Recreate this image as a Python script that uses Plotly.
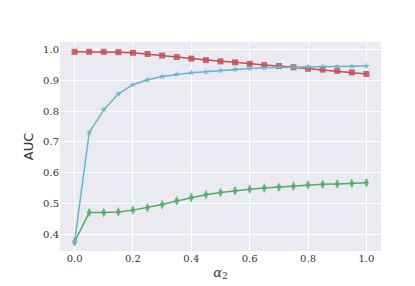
import plotly.graph_objects as go

alpha2 = [0.0, 0.05, 0.1, 0.15, 0.2, 0.25, 0.3, 0.35, 0.4, 0.45, 0.5,
          0.55, 0.6, 0.65, 0.7, 0.75, 0.8, 0.85, 0.9, 0.95, 1.0]
red_auc = [0.993, 0.993, 0.993, 0.992, 0.990, 0.986, 0.981, 0.976, 0.971, 0.966, 0.962,
           0.959, 0.954, 0.950, 0.947, 0.943, 0.938, 0.935, 0.931, 0.926, 0.921]
cyan_auc = [0.375, 0.730, 0.805, 0.856, 0.886, 0.902, 0.913, 0.920, 0.925, 0.928, 0.932,
            0.936, 0.939, 0.941, 0.943, 0.943, 0.944, 0.945, 0.945, 0.946, 0.947]
green_auc = [0.375, 0.470, 0.470, 0.472, 0.478, 0.486, 0.496, 0.508, 0.519, 0.528, 0.535,
             0.541, 0.546, 0.550, 0.553, 0.556, 0.560, 0.562, 0.563, 0.565, 0.567]
x_ticks = [0.0, 0.2, 0.4, 0.6, 0.8, 1.0]
y_ticks = [0.4, 0.5, 0.6, 0.7, 0.8, 0.9, 1.0]

serif = "DejaVu Serif, Liberation Serif, serif"

fig = go.Figure()
fig.add_trace(go.Scatter(x=alpha2, y=green_auc, mode="lines+markers",
                         line=dict(color="#55A868", width=1.5),
                         marker=dict(symbol="diamond-tall", size=7, color="#55A868", opacity=0.85)))
fig.add_trace(go.Scatter(x=alpha2, y=red_auc, mode="lines+markers",
                         line=dict(color="#C44E52", width=1.5),
                         marker=dict(symbol="square", size=6, color="#C44E52", opacity=0.85)))
fig.add_trace(go.Scatter(x=alpha2, y=cyan_auc, mode="lines+markers",
                         line=dict(color="#64B5CD", width=1.5),
                         marker=dict(symbol="star", size=5, color="#64B5CD", opacity=0.85)))

fig.update_layout(
    width=415, height=286,
    margin=dict(l=52, r=42, t=34, b=43),
    paper_bgcolor="white", plot_bgcolor="#EAEAF2",
    showlegend=False,
    font=dict(family=serif, size=10, color="#333333"),
)
fig.update_xaxes(range=[-0.05, 1.05], tickvals=x_ticks, tickformat=".1f",
                 tickfont=dict(family=serif, size=10, color="#333333"),
                 showgrid=True, gridcolor="white", gridwidth=1, zeroline=False,
                 ticks="", showline=False,
                 title=dict(text="<i>α</i><sub>2</sub>", font=dict(size=13, family=serif), standoff=4))
fig.update_yaxes(range=[0.345, 1.025], tickvals=y_ticks, tickformat=".1f",
                 tickfont=dict(family=serif, size=10, color="#333333"),
                 showgrid=True, gridcolor="white", gridwidth=1, zeroline=False,
                 ticks="", showline=False,
                 title=dict(text="AUC", font=dict(size=13, family="DejaVu Sans"), standoff=6))

fig.write_html("out.html")
